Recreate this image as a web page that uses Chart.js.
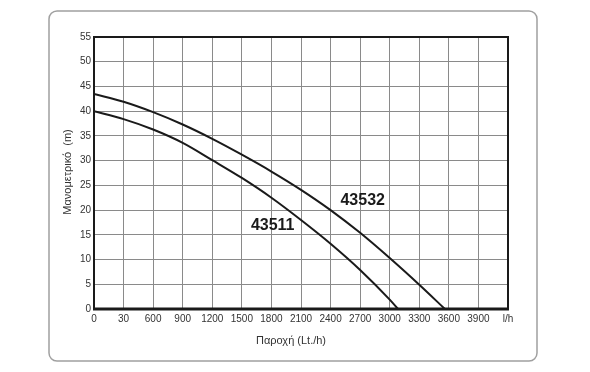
<!DOCTYPE html>
<html>
<head>
<meta charset="utf-8">
<script src="https://cdn.jsdelivr.net/npm/chart.js@4/dist/chart.umd.min.js"></script>
<style>
  html, body { margin: 0; padding: 0; background: #fff; }
  #wrap { width: 590px; height: 372px; position: relative; }
</style>
</head>
<body>
<div id="wrap"><canvas id="chart"></canvas></div>
<script>
// flow in l/h, head in m
var flow43532 = [0, 300, 600, 900, 1200, 1500, 1800, 2100, 2400, 2700, 3000, 3300, 3560];
var head43532 = [43.5, 41.9, 39.8, 37.3, 34.4, 31.2, 27.8, 24.1, 20.0, 15.4, 10.3, 4.9, 0];

var flow43511 = [0, 300, 600, 900, 1200, 1500, 1800, 2100, 2400, 2700, 3000, 3085];
var head43511 = [40.0, 38.4, 36.3, 33.6, 30.1, 26.5, 22.5, 18.0, 13.2, 7.9, 1.9, 0];

var xTickLabels = ['0', '30', '600', '900', '1200', '1500', '1800', '2100', '2400', '2700', '3000', '3300', '3600', '3900', 'l/h'];

var curveNames = ['43532', '43511'];
var nameAt = [[2726, 22.0], [1813, 16.8]];

function toPoints(xs, ys) {
  return xs.map(function (x, i) { return { x: x, y: ys[i] }; });
}

var frame = {
  id: 'frame',
  beforeDraw: function (chart) {
    var ctx = chart.ctx;
    ctx.save();
    ctx.strokeStyle = '#a0a0a0';
    ctx.lineWidth = 1.5;
    ctx.beginPath();
    ctx.roundRect(49, 11, 488, 350, 8);
    ctx.stroke();
    ctx.restore();
  },
  afterDraw: function (chart) {
    var ctx = chart.ctx;
    var a = chart.chartArea;
    var xs = chart.scales.x, ys = chart.scales.y;
    ctx.save();
    ctx.strokeStyle = '#1a1a1a';
    ctx.lineWidth = 2;
    ctx.strokeRect(a.left, a.top, a.right - a.left, a.bottom - a.top);
    ctx.lineWidth = 3;
    ctx.beginPath();
    ctx.moveTo(a.left - 1, a.bottom);
    ctx.lineTo(a.right + 1, a.bottom);
    ctx.stroke();

    ctx.fillStyle = '#1a1a1a';
    ctx.font = 'bold 16px "Liberation Sans", Arial, sans-serif';
    ctx.textAlign = 'center';
    ctx.textBaseline = 'middle';
    curveNames.forEach(function (n, i) {
      ctx.fillText(n, xs.getPixelForValue(nameAt[i][0]), ys.getPixelForValue(nameAt[i][1]));
    });

    ctx.fillStyle = '#333';
    ctx.font = '11px "Liberation Sans", Arial, sans-serif';
    ctx.fillText('Παροχή (Lt./h)', 291, 341);
    ctx.translate(68, 172);
    ctx.rotate(-Math.PI / 2);
    ctx.fillText('Μανομετρικό  (m)', 0, 0);
    ctx.restore();
  }
};

new Chart('chart', {
  type: 'scatter',
  data: {
    datasets: [{
      label: '43532',
      data: toPoints(flow43532, head43532),
      borderColor: '#1a1a1a',
      borderWidth: 2,
      pointRadius: 0,
      showLine: true,
      cubicInterpolationMode: 'monotone'
    }, {
      label: '43511',
      data: toPoints(flow43511, head43511),
      borderColor: '#1a1a1a',
      borderWidth: 2,
      pointRadius: 0,
      showLine: true,
      cubicInterpolationMode: 'monotone'
    }]
  },
  options: {
    responsive: true,
    maintainAspectRatio: false,
    animation: false,
    layout: { padding: { left: 0, right: 82, top: 37, bottom: 0 } },
    plugins: { legend: { display: false }, tooltip: { enabled: false } },
    scales: {
      x: {
        type: 'linear',
        min: 0,
        max: 4200,
        afterBuildTicks: function (s) {
          s.ticks = xTickLabels.map(function (t, i) { return { value: i * 300 }; });
        },
        afterFit: function (s) { s.height = 63; },
        ticks: {
          autoSkip: false,
          maxRotation: 0,
          padding: 4,
          color: '#333',
          font: { family: '"Liberation Sans", Arial, sans-serif', size: 10 },
          callback: function (v, i) { return xTickLabels[i]; }
        },
        grid: { color: '#8a8a8a', lineWidth: 1, drawTicks: false },
        border: { display: false }
      },
      y: {
        min: 0,
        max: 55,
        afterFit: function (s) { s.width = 94; },
        ticks: {
          stepSize: 5,
          padding: 3,
          color: '#333',
          font: { family: '"Liberation Sans", Arial, sans-serif', size: 10 }
        },
        grid: { color: '#8a8a8a', lineWidth: 1, drawTicks: false },
        border: { display: false }
      }
    }
  },
  plugins: [frame]
});
</script>
</body>
</html>
